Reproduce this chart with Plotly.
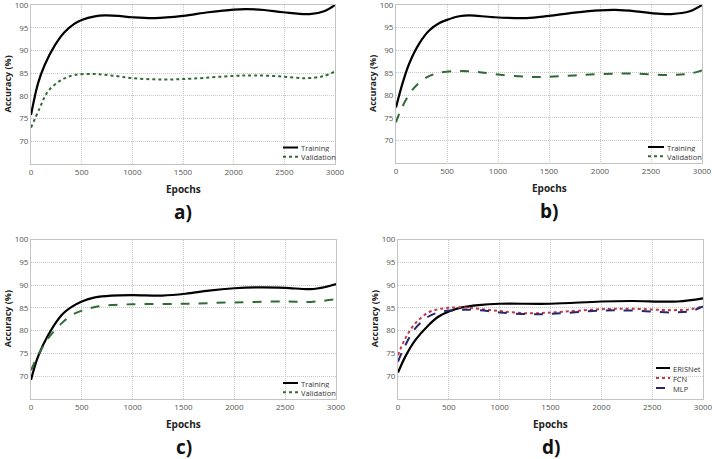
import plotly.graph_objects as go

# ---------------- data ----------------
a_x = [0, 70, 135, 235, 330, 430, 500, 630, 730, 860, 1000, 1220, 1500, 1750, 2000, 2130, 2300, 2490, 2750, 2900, 3000]
a_train = [75.8, 82.8, 86.8, 91.1, 94.0, 95.9, 96.7, 97.5, 97.7, 97.6, 97.3, 97.1, 97.6, 98.4, 99.0, 99.1, 98.9, 98.4, 98.0, 98.7, 100.0]
a_valx = [0, 86, 168, 300, 430, 630, 790, 1000, 1290, 1600, 2000, 2200, 2450, 2700, 2880, 3000]
a_val = [73.0, 77.3, 81.0, 83.5, 84.6, 84.8, 84.5, 83.9, 83.6, 83.8, 84.4, 84.5, 84.3, 83.9, 84.3, 85.4]

b_x = [0, 66, 131, 229, 328, 426, 500, 620, 720, 950, 1280, 1500, 1750, 2000, 2150, 2350, 2500, 2700, 2880, 3000]
b_train = [77.3, 82.8, 87.1, 91.5, 94.4, 96.0, 96.7, 97.5, 97.7, 97.3, 97.1, 97.6, 98.3, 98.8, 98.9, 98.6, 98.2, 98.0, 98.6, 100.0]
b_valx = [0, 50, 164, 295, 426, 620, 784, 1000, 1280, 1500, 1750, 2000, 2300, 2700, 2880, 3000]
b_val = [74.0, 76.9, 81.3, 83.9, 85.0, 85.4, 85.2, 84.6, 84.1, 84.1, 84.4, 84.7, 84.8, 84.5, 84.8, 85.5]

c_x = [0, 69, 168, 300, 400, 500, 630, 790, 1000, 1290, 1520, 1750, 2000, 2250, 2500, 2750, 2900, 3000]
c_train = [69.2, 74.3, 79.0, 83.4, 85.2, 86.4, 87.3, 87.7, 87.8, 87.7, 88.1, 88.8, 89.3, 89.5, 89.4, 89.1, 89.6, 90.2]
c_valx = [0, 69, 168, 300, 400, 500, 630, 790, 1000, 1500, 2000, 2500, 2750, 3000]
c_val = [71.3, 74.6, 78.3, 81.6, 83.4, 84.4, 85.2, 85.6, 85.8, 85.9, 86.2, 86.4, 86.3, 86.9]

d_x = [0, 72, 170, 300, 400, 500, 630, 790, 1000, 1500, 2000, 2300, 2750, 3000]
d_eris = [70.8, 74.3, 77.9, 81.2, 83.1, 84.2, 85.1, 85.6, 85.9, 85.9, 86.4, 86.5, 86.4, 87.1]
d_x2 = [0, 72, 170, 300, 400, 500, 630, 790, 1000, 1290, 1520, 2000, 2300, 2700, 2880, 3000]
d_fcn = [74.6, 78.3, 81.6, 84.0, 84.7, 85.0, 85.1, 84.8, 84.3, 83.8, 84.0, 84.7, 84.8, 84.5, 84.7, 85.4]
d_mlp = [73.2, 76.8, 80.5, 83.1, 84.0, 84.4, 84.6, 84.5, 84.0, 83.6, 83.7, 84.4, 84.4, 84.0, 84.3, 85.3]

x_ticks = [0, 500, 1000, 1500, 2000, 2500, 3000]
y_ticks = [70, 75, 80, 85, 90, 95, 100]
panel_labels = ["a)", "b)", "c)", "d)"]

# ---------------- layout geometry ----------------
W, H = 712, 459
FONT = "Open Sans"
GREEN = "#2f6b34"
panels = [
    # x0,x1 px, ytop,ybot px
    (31, 335, 5, 164),
    (396, 702, 5, 163),
    (31, 336, 239.5, 399),
    (398, 703, 239.5, 399),
]
# legend: line x start, line x end, first row y, row step
legends = [
    (283, 298, 147.5, 9.3),
    (648, 664, 147, 9.3),
    (283, 298, 383, 9.3),
    (656, 670, 368, 10),
]

fig = go.Figure()

def px2x(p):
    return p / W

def px2y(p):
    return 1 - p / H

series = [
    [("Training", a_x, a_train, "black", "solid", 2.2, "solid"),
     ("Validation", a_valx, a_val, GREEN, "dot", 2.0, "dot")],
    [("Training", b_x, b_train, "black", "solid", 2.2, "solid"),
     ("Validation", b_valx, b_val, GREEN, "dash", 2.0, "dot")],
    [("Training", c_x, c_train, "black", "solid", 2.2, "solid"),
     ("Validation", c_valx, c_val, GREEN, "dash", 2.0, "dot")],
    [("ERISNet", d_x, d_eris, "black", "solid", 2.2, "solid"),
     ("FCN", d_x2, d_fcn, "#c0394a", "dot", 2.0, "dot"),
     ("MLP", d_x2, d_mlp, "#27276e", "dash", 2.0, "dash")],
]

for i, (x0, x1, yt, yb) in enumerate(panels):
    n = "" if i == 0 else str(i + 1)
    xa = "x" + n
    ya = "y" + n
    for name, xs, ys, col, dash, w, ldash in series[i]:
        fig.add_trace(go.Scatter(
            x=xs, y=ys, mode="lines", name=name,
            line=dict(color=col, dash=dash, width=w, shape="spline", smoothing=1.0),
            xaxis=xa, yaxis=ya, showlegend=False))
    axcommon = dict(showline=True, linecolor="#c4c4c4", linewidth=1, mirror=True,
                    showgrid=True, gridcolor="#c8c8c8", griddash="1px,1px", gridwidth=1,
                    zeroline=False, ticks="", ticklabeloverflow="allow",
                    tickfont=dict(family=FONT, size=8, color="#555"))
    fig.update_layout(**{
        "xaxis" + n: dict(domain=[px2x(x0), px2x(x1)], range=[0, 3000], tickvals=x_ticks,
                          anchor=ya, **axcommon),
        "yaxis" + n: dict(domain=[px2y(yb), px2y(yt)], range=[65, 100], tickvals=y_ticks,
                          anchor=xa, **axcommon),
    })
    # compact legend drawn with shapes + text
    lx0, lx1, ly, step = legends[i]
    for k, (name, xs, ys, col, dash, w, ldash) in enumerate(series[i]):
        yy = ly + k * step
        fig.add_shape(type="line", xref="paper", yref="paper",
                      x0=px2x(lx0), x1=px2x(lx1), y0=px2y(yy), y1=px2y(yy),
                      line=dict(color=col, width=2, dash=ldash))
        fig.add_annotation(x=px2x(lx1 + 2), y=px2y(yy), xref="paper", yref="paper",
                           text=name, showarrow=False, xanchor="left", yanchor="middle",
                           height=9, borderpad=0,
                           font=dict(family=FONT, size=7.5, color="#333"))
    cx = (x0 + x1) / 2
    fig.add_annotation(x=px2x(cx), y=px2y(yb + 25), xref="paper", yref="paper",
                       text="<b>Epochs</b>", showarrow=False, xanchor="center", yanchor="middle",
                       font=dict(family=FONT, size=10, color="#222"))
    fig.add_annotation(x=px2x(cx), y=px2y(yb + 48), xref="paper", yref="paper",
                       text="<b>" + panel_labels[i] + "</b>", showarrow=False,
                       xanchor="center", yanchor="middle",
                       font=dict(family=FONT, size=19, color="#111"))
    fig.add_annotation(x=px2x(x0 - 24), y=px2y((yt + yb) / 2), xref="paper", yref="paper",
                       text="<b>Accuracy (%)</b>", showarrow=False, textangle=-90,
                       xanchor="center", yanchor="middle",
                       font=dict(family=FONT, size=9, color="#222"))

fig.update_layout(width=W, height=H,
                  margin=dict(l=0, r=0, t=0, b=0, autoexpand=False),
                  paper_bgcolor="white", plot_bgcolor="white", showlegend=False)

fig.write_html("out.html", config={"displayModeBar": False},
               post_script="document.body.style.margin='0';document.body.style.overflow='hidden';")
